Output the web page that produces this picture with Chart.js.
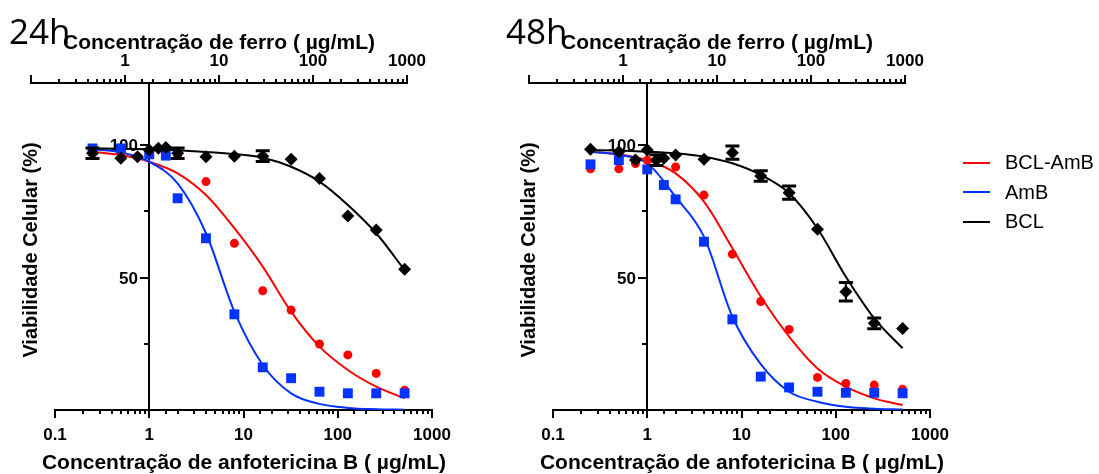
<!DOCTYPE html>
<html>
<head>
<meta charset="utf-8">
<script src="https://cdn.jsdelivr.net/npm/chart.js@4.4.1/dist/chart.umd.min.js"></script>
<style>
  body { margin: 0; background: #fff; }
  #page { position: relative; width: 1099px; height: 474px; overflow: hidden; font-family: "Liberation Sans", Arial, sans-serif; color: #000; }
  canvas { position: absolute; top: 0; }
  .tag { position: absolute; top: 13px; font-family: "Open Sans", sans-serif; font-size: 35px; line-height: 1; }
  .ytitle { position: absolute; top: 238px; width: 300px; text-align: center; font-weight: bold; font-size: 20px; line-height: 24px; transform: rotate(-90deg); }
  .xtitle { position: absolute; top: 450px; width: 500px; text-align: center; font-weight: bold; font-size: 21px; line-height: 24px; }
  #legend { position: absolute; left: 963px; top: 148px; }
  .row { height: 29.5px; display: flex; align-items: center; font-size: 20px; }
  .swatch { width: 27px; height: 2px; margin-right: 15px; }
</style>
</head>
<body>
<div id="page">
  <canvas id="c24" width="470" height="474" style="left:0"></canvas>
  <canvas id="t24" width="470" height="474" style="left:0"></canvas>
  <canvas id="c48" width="470" height="474" style="left:498px"></canvas>
  <canvas id="t48" width="470" height="474" style="left:498px"></canvas>
  <div class="ytitle" id="y24" style="left:-120px"></div>
  <div class="ytitle" id="y48" style="left:378px"></div>
  <div class="xtitle" id="x24" style="left:-6px"></div>
  <div class="xtitle" id="x48" style="left:492px"></div>
  <div class="tag" id="tag24" style="left:9px"></div>
  <div class="tag" id="tag48" style="left:506px"></div>
  <div id="legend"></div>
</div>
<script>
// labels
const panelTags = ['24h', '48h'];
const seriesNames = ['BCL-AmB', 'AmB', 'BCL'];
const seriesColors = ['#ff0000', '#0033ff', '#000000'];
const xTitleBottom = 'Concentração de anfotericina B ( µg/mL)';
const xTitleTop = 'Concentração de ferro ( µg/mL)';
const yTitle = 'Viabilidade Celular (%)';
const bottomTickLabels = ['0.1', '1', '10', '100', '1000'];
const topTickLabels = ['1', '10', '100', '1000'];
const yTickValues = [25, 50, 75, 100];
const yTickLabels = ['', '50', '', '100'];

const fitConc = [0.25, 0.5, 1, 2, 4, 8, 16, 32, 64, 128, 256, 512];

// 24h
const bclAmbConc24 = [0.25, 0.5, 1, 2, 4, 8, 16, 32, 64, 128, 256, 512];
const bclAmb24 = [97.5, 97, 96.5, 96, 86.2, 62.9, 45.0, 37.7, 24.9, 20.8, 13.8, 7.5];
const ambConc24 = [0.25, 0.5, 1, 1.5, 2, 4, 8, 16, 32, 64, 128, 256, 512];
const amb24 = [98.7, 98.7, 96.5, 96, 79.9, 64.8, 36.1, 16.1, 12.0, 6.9, 6.3, 6.3, 6.3];
const bclConc24 = [0.25, 0.5, 0.75, 1, 1.25, 1.5, 2, 4, 8, 16, 32, 64, 128, 256, 512];
const bcl24 = [96.9, 95.0, 95.6, 98.1, 98.8, 99.1, 96.9, 95.6, 95.8, 95.8, 94.6, 87.4, 73.2, 67.9, 53.1];
const bclErr24 = [2, 0, 0, 0, 0, 0, 2, 0, 0, 2, 0, 0, 0, 0, 0];
const bclAmbFit24 = [97.5, 96.2, 93.7, 89.3, 81.1, 68.6, 54.1, 37.1, 23.9, 15.1, 8.8, 4.4];
const ambFit24 = [98.4, 97.2, 93.7, 85.5, 66.7, 37.1, 17.0, 6.3, 2.3, 0.8, 0.3, 0.1];
const bclFit24 = [98.7, 98.6, 98.4, 98.0, 97.4, 96.6, 95.2, 91.8, 86.2, 77.4, 66.7, 52.8];

// 48h
const bclAmbConc48 = [0.25, 0.5, 0.75, 1, 2, 4, 8, 16, 32, 64, 128, 256, 512];
const bclAmb48 = [91.0, 91.0, 93.0, 94.3, 91.7, 81.1, 58.8, 40.9, 30.4, 12.3, 10.0, 9.4, 7.8];
const ambConc48 = [0.25, 0.5, 1, 1.5, 2, 4, 8, 16, 32, 64, 128, 256, 512];
const amb48 = [92.7, 94.3, 90.8, 84.9, 79.5, 63.5, 34.2, 12.6, 8.5, 6.9, 6.5, 6.5, 6.3];
const bclConc48 = [0.25, 0.5, 0.75, 1, 1.25, 1.5, 2, 4, 8, 16, 32, 64, 128, 256, 512];
const bcl48 = [98.4, 97.5, 94.3, 98.1, 94.3, 95.0, 96.2, 94.6, 97.1, 88.3, 82.0, 68.2, 44.6, 32.7, 30.8];
const bclErr48 = [0, 0, 0, 0, 2, 0, 0, 0, 2.5, 2, 2.5, 0, 3.5, 2, 0];
const bclAmbFit48 = [97.5, 96.5, 94.3, 89.3, 78.6, 61.0, 42.8, 27.7, 15.7, 8.8, 4.4, 1.9];
const ambFit48 = [97.5, 96.3, 93.1, 80.4, 65.4, 35.2, 17.3, 6.9, 3.1, 1.2, 0.5, 0.2];
const bclFit48 = [98.1, 97.9, 97.5, 96.9, 95.6, 93.1, 88.7, 81.8, 68.5, 50.3, 34.6, 23.3];

Chart.defaults.font.family = '"Liberation Sans", Arial, sans-serif';
Chart.defaults.color = '#000';

const isDecade = v => Math.abs(Math.log10(v) - Math.round(Math.log10(v))) < 1e-6;
const logLabel = labels => v => {
  const hit = labels.find(s => Math.abs(Number(s) - v) < v * 1e-6);
  return hit === undefined ? '' : hit;
};
const zip = (xs, ys) => xs.map((x, i) => ({ x: x, y: ys[i] }));

// tick marks of the log axes (long on decades), plus the y axis crossing at x = 1
const axisMarks = {
  id: 'axisMarks',
  beforeDatasetsDraw(chart, args, opts) {
    const ctx = chart.ctx;
    ctx.save();
    ctx.strokeStyle = '#000';
    ctx.fillStyle = '#000';
    ctx.lineWidth = 2;
    Object.values(chart.scales).forEach(scale => {
      if (scale.type !== 'logarithmic') return;
      const up = scale.options.position === 'top';
      const y0 = up ? scale.bottom : scale.top;
      scale.ticks.forEach(t => {
        const x = Math.round(scale.getPixelForValue(t.value));
        const len = isDecade(t.value) ? 8 : 4;
        ctx.beginPath();
        ctx.moveTo(x, y0);
        ctx.lineTo(x, up ? y0 - len : y0 + len);
        ctx.stroke();
      });
    });
    if (opts.yAxisAt) {
      const ca = chart.chartArea;
      const ys = chart.scales.y;
      const x = Math.round(chart.scales.x.getPixelForValue(opts.yAxisAt));
      ctx.beginPath();
      ctx.moveTo(x, ca.top);
      ctx.lineTo(x, ca.bottom);
      ctx.stroke();
      ctx.font = 'bold 17px "Liberation Sans", Arial, sans-serif';
      ctx.textAlign = 'right';
      ctx.textBaseline = 'middle';
      opts.ticks.forEach((v, i) => {
        const y = Math.round(ys.getPixelForValue(v));
        const len = opts.labels[i] ? 9 : 5;
        ctx.beginPath();
        ctx.moveTo(x, y);
        ctx.lineTo(x - len, y);
        ctx.stroke();
        if (opts.labels[i]) ctx.fillText(opts.labels[i], x - 11, y + 1);
      });
    }
    ctx.restore();
  }
};

const errorBars = {
  id: 'errorBars',
  afterDatasetsDraw(chart) {
    const ctx = chart.ctx;
    const xs = chart.scales.x, ys = chart.scales.y;
    chart.data.datasets.forEach(ds => {
      if (!ds.errors) return;
      ctx.save();
      ctx.strokeStyle = ds.borderColor;
      ds.data.forEach((p, i) => {
        const e = ds.errors[i];
        if (!e) return;
        const px = xs.getPixelForValue(p.x);
        const yt = ys.getPixelForValue(p.y + e);
        const yb = ys.getPixelForValue(p.y - e);
        ctx.lineWidth = 2;
        ctx.beginPath();
        ctx.moveTo(px, yt); ctx.lineTo(px, yb);
        ctx.stroke();
        ctx.lineWidth = 3;
        ctx.beginPath();
        ctx.moveTo(px - 7, yt); ctx.lineTo(px + 7, yt);
        ctx.moveTo(px - 7, yb); ctx.lineTo(px + 7, yb);
        ctx.stroke();
      });
      ctx.restore();
    });
  }
};

function points(label, xs, ys, color, style, radius, errors) {
  return {
    label: label, data: zip(xs, ys), errors: errors,
    pointStyle: style, pointRadius: radius, borderWidth: 0,
    backgroundColor: color, borderColor: color, showLine: false
  };
}

function fit(label, ys, color) {
  return {
    label: label, data: zip(fitConc, ys), showLine: true,
    cubicInterpolationMode: 'monotone', pointRadius: 0,
    borderColor: color, borderWidth: 2, backgroundColor: color
  };
}

function panel(id, topId, s) {
  new Chart(document.getElementById(id), {
    type: 'scatter',
    data: {
      datasets: [
        points(seriesNames[2], s.bclConc, s.bcl, seriesColors[2], 'rectRot', 6.5, s.bclErr),
        points(seriesNames[1], s.ambConc, s.amb, seriesColors[1], 'rect', 7),
        points(seriesNames[0], s.bclAmbConc, s.bclAmb, seriesColors[0], 'circle', 4.5),
        fit(seriesNames[2], s.bclFit, seriesColors[2]),
        fit(seriesNames[1], s.ambFit, seriesColors[1]),
        fit(seriesNames[0], s.bclAmbFit, seriesColors[0])
      ]
    },
    options: {
      responsive: false,
      animation: false,
      layout: { padding: { left: 55, right: 38, top: 83, bottom: 14 } },
      plugins: {
        legend: { display: false },
        tooltip: { enabled: false },
        axisMarks: { yAxisAt: 1, ticks: yTickValues, labels: yTickLabels }
      },
      scales: {
        x: {
          type: 'logarithmic', position: 'bottom', min: 0.1, max: 1000,
          grid: { display: false, drawTicks: false },
          border: { display: true, color: '#000', width: 2 },
          ticks: { autoSkip: false, maxRotation: 0, minRotation: 0, padding: 16.5,
                   font: { size: 17, weight: 'bold', lineHeight: 1 }, callback: logLabel(bottomTickLabels) }
        },
        y: { display: false, min: 0, max: 123.4 }
      }
    },
    plugins: [axisMarks, errorBars]
  });

  // iron concentration axis on top
  new Chart(document.getElementById(topId), {
    type: 'scatter',
    data: { datasets: [] },
    options: {
      responsive: false,
      animation: false,
      layout: { padding: { left: 31, right: 63, top: 33, bottom: 0 } },
      plugins: { legend: { display: false }, tooltip: { enabled: false } },
      scales: {
        x: {
          type: 'logarithmic', position: 'top', min: 0.1, max: 1000,
          grid: { display: false, drawTicks: false },
          border: { display: true, color: '#000', width: 2 },
          ticks: { autoSkip: false, maxRotation: 0, minRotation: 0, padding: 13.5,
                   font: { size: 17, weight: 'bold', lineHeight: 1 }, callback: logLabel(topTickLabels) },
          title: { display: true, text: xTitleTop, font: { size: 21, weight: 'bold', lineHeight: 1 },
                   padding: { top: 0, bottom: -15 } }
        },
        y: { display: false, min: 0, max: 123.4 }
      }
    },
    plugins: [axisMarks]
  });
}

panel('c24', 't24', {
  bclAmbConc: bclAmbConc24, bclAmb: bclAmb24, ambConc: ambConc24, amb: amb24,
  bclConc: bclConc24, bcl: bcl24, bclErr: bclErr24,
  bclAmbFit: bclAmbFit24, ambFit: ambFit24, bclFit: bclFit24
});
panel('c48', 't48', {
  bclAmbConc: bclAmbConc48, bclAmb: bclAmb48, ambConc: ambConc48, amb: amb48,
  bclConc: bclConc48, bcl: bcl48, bclErr: bclErr48,
  bclAmbFit: bclAmbFit48, ambFit: ambFit48, bclFit: bclFit48
});

document.getElementById('tag24').textContent = panelTags[0];
document.getElementById('tag48').textContent = panelTags[1];
document.getElementById('y24').textContent = yTitle;
document.getElementById('y48').textContent = yTitle;
document.getElementById('x24').textContent = xTitleBottom;
document.getElementById('x48').textContent = xTitleBottom;

const legend = document.getElementById('legend');
seriesNames.forEach((name, i) => {
  const row = document.createElement('div');
  row.className = 'row';
  const sw = document.createElement('span');
  sw.className = 'swatch';
  sw.style.background = seriesColors[i];
  row.appendChild(sw);
  row.appendChild(document.createTextNode(name));
  legend.appendChild(row);
});
</script>
</body>
</html>
